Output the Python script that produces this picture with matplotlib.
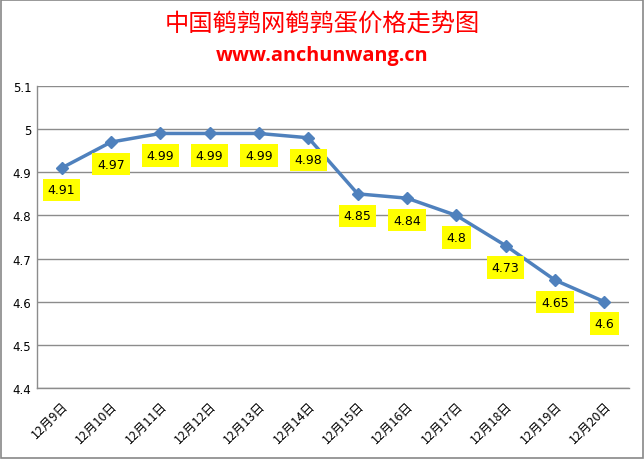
import matplotlib
matplotlib.use("Agg")
import matplotlib.pyplot as plt
from matplotlib.patches import Rectangle

plt.rcParams['font.family'] = ['DejaVu Sans', 'Noto Sans CJK SC']

dates = ["12月9日", "12月10日", "12月11日", "12月12日", "12月13日", "12月14日",
         "12月15日", "12月16日", "12月17日", "12月18日", "12月19日", "12月20日"]
prices = [4.91, 4.97, 4.99, 4.99, 4.99, 4.98, 4.85, 4.84, 4.8, 4.73, 4.65, 4.6]
labels = ["4.91", "4.97", "4.99", "4.99", "4.99", "4.98", "4.85", "4.84", "4.8", "4.73", "4.65", "4.6"]
yticks = [4.4, 4.5, 4.6, 4.7, 4.8, 4.9, 5.0, 5.1]
ytick_labels = ["4.4", "4.5", "4.6", "4.7", "4.8", "4.9", "5", "5.1"]

fig = plt.figure(figsize=(6.44, 4.60), dpi=100)
fig.patches.append(Rectangle((0.002, 0.002), 0.996, 0.996, transform=fig.transFigure,
                             fill=False, edgecolor='#888888', linewidth=1.2))
ax = fig.add_axes([37/644, 1-389/460, (629-37)/644, (389-87)/460])

x = list(range(len(dates)))
ax.plot(x, prices, color='#4F81BD', linewidth=2.5, marker='D', markersize=6, zorder=3)
for xi, yi, lb in zip(x, prices, labels):
    ax.annotate(lb, (xi, yi), xytext=(0, -22), textcoords='offset pixels',
                ha='center', va='center', fontsize=9, color='black',
                bbox=dict(boxstyle='square,pad=0.38', facecolor='#FFFF00', edgecolor='none'), zorder=4)

ax.set_xlim(-0.5, len(dates) - 0.5)
ax.set_ylim(4.4, 5.1)
ax.set_yticks(yticks)
ax.set_yticklabels(ytick_labels, fontsize=8.5)
ax.set_xticks(x)
ax.set_xticklabels(dates, rotation=45, ha='right', va='top', rotation_mode='anchor',
                   fontsize=9, family=['Noto Sans CJK SC', 'DejaVu Sans'])
ax.tick_params(axis='both', length=0, pad=4)
ax.tick_params(axis='x', pad=8)
ax.grid(axis='y', color='#8C8C8C', linewidth=1)
ax.set_axisbelow(True)
for s in ['top', 'right']:
    ax.spines[s].set_visible(False)
for s in ['left', 'bottom']:
    ax.spines[s].set_color('#8C8C8C')
    ax.spines[s].set_linewidth(1)

fig.text(322/644, 1-24/460, "中国鹌鹑网鹌鹑蛋价格走势图", ha='center', va='center', color='#FF0000',
         fontsize=17.5, family=['Noto Sans CJK SC'])
fig.text(322/644, 1-56/460, "www.anchunwang.cn", ha='center', va='center', color='#FF0000',
         fontsize=14.3, fontweight='bold', family=['Open Sans', 'DejaVu Sans'])

fig.savefig("out.png", dpi=100)
